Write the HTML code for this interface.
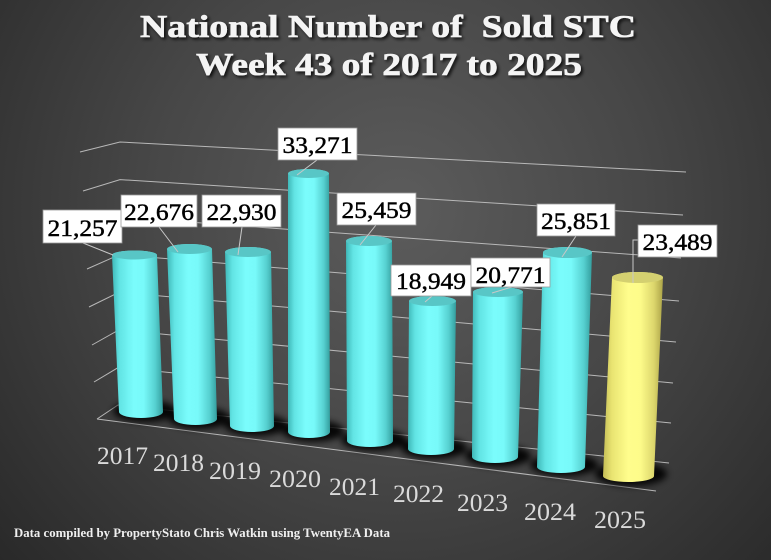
<!DOCTYPE html>
<html><head><meta charset="utf-8"><style>
html,body{margin:0;padding:0;background:#333;}
svg{display:block;}
</style></head><body>
<svg width="771" height="560" viewBox="0 0 771 560" xmlns="http://www.w3.org/2000/svg">
<defs>
<radialGradient id="bg" gradientUnits="userSpaceOnUse" cx="400" cy="210" r="560">
<stop offset="0" stop-color="#5c5c5c"/>
<stop offset="0.45" stop-color="#474747"/>
<stop offset="1" stop-color="#262626"/>
</radialGradient>
<linearGradient id="cy" x1="0" y1="0" x2="1" y2="0">
<stop offset="0" stop-color="#3fb8b8"/>
<stop offset="0.15" stop-color="#62e4e4"/>
<stop offset="0.42" stop-color="#7afcfc"/>
<stop offset="0.62" stop-color="#78fafa"/>
<stop offset="0.85" stop-color="#56d0d0"/>
<stop offset="1" stop-color="#349e9e"/>
</linearGradient>
<linearGradient id="yl" x1="0" y1="0" x2="1" y2="0">
<stop offset="0" stop-color="#c4bd55"/>
<stop offset="0.15" stop-color="#e9e472"/>
<stop offset="0.42" stop-color="#fffd8c"/>
<stop offset="0.62" stop-color="#fdfb8a"/>
<stop offset="0.85" stop-color="#dcd66c"/>
<stop offset="1" stop-color="#aca448"/>
</linearGradient>
<filter id="blur" x="-50%" y="-50%" width="200%" height="200%"><feGaussianBlur stdDeviation="3.5"/></filter>
<filter id="ts" x="-10%" y="-30%" width="120%" height="160%"><feGaussianBlur in="SourceAlpha" stdDeviation="1.5"/><feOffset dx="2" dy="2" result="o"/><feComponentTransfer><feFuncA type="linear" slope="0.8"/></feComponentTransfer><feMerge><feMergeNode/><feMergeNode in="SourceGraphic"/></feMerge></filter>
</defs>
<rect width="771" height="560" fill="url(#bg)"/>

<!-- gridlines -->
<g stroke="#b8b8b8" stroke-width="1" fill="none">
<polyline points="80,152 120,142 686,172"/>
<polyline points="83,191 120,179.6 683,215"/>
<polyline points="85,230 119.5,217 681,258"/>
<polyline points="87,269 119.3,254.7 679,301"/>
<polyline points="89,307 119,292.3 676,342"/>
<polyline points="92,345 118.7,330 673,383"/>
<polyline points="94,382 118.4,367.4 671,423"/>
<polyline points="97,419 118,405 669,463"/>
<line x1="97" y1="419" x2="656" y2="491"/>
</g>

<!-- shadows -->
<g fill="#000" opacity="0.9" filter="url(#blur)">
<ellipse cx="145" cy="411" rx="32" ry="11"/>
<ellipse cx="199" cy="418" rx="31" ry="11"/>
<ellipse cx="256" cy="425" rx="32" ry="11"/>
<ellipse cx="313" cy="431" rx="31" ry="11"/>
<ellipse cx="374" cy="440" rx="33" ry="11"/>
<ellipse cx="434" cy="448" rx="33" ry="11"/>
<ellipse cx="498" cy="456" rx="33" ry="11"/>
<ellipse cx="564" cy="465" rx="34" ry="11"/>
<ellipse cx="631" cy="474" rx="36" ry="12"/>
</g>

<!-- cylinders -->
<g>
<path d="M112,255 L119,412 A22,6 0 0 0 163,412 L157,255 A22.5,4.5 0 0 0 112,255 Z" fill="url(#cy)"/>
<ellipse cx="134.5" cy="255" rx="22.5" ry="4.5" fill="#58c6c6"/>

<path d="M167,249 L174,419 A21.5,6 0 0 0 217,419 L212,249 A22.5,5 0 0 0 167,249 Z" fill="url(#cy)"/>
<ellipse cx="189.5" cy="249" rx="22.5" ry="5" fill="#58c6c6"/>

<path d="M225,252 L230,426 A22,6 0 0 0 274,426 L271,252 A23,5 0 0 0 225,252 Z" fill="url(#cy)"/>
<ellipse cx="248" cy="252" rx="23" ry="5" fill="#58c6c6"/>

<path d="M288,173.5 L288,432 A21,6 0 0 0 330,432 L329,173.5 A20.5,4.5 0 0 0 288,173.5 Z" fill="url(#cy)"/>
<ellipse cx="308.5" cy="173.5" rx="20.5" ry="4.5" fill="#58c6c6"/>

<path d="M346,241 L347,441 A23,6 0 0 0 393,441 L392,241 A23,5 0 0 0 346,241 Z" fill="url(#cy)"/>
<ellipse cx="369" cy="241" rx="23" ry="5" fill="#58c6c6"/>

<path d="M409,301 L408,449 A23,6 0 0 0 454,449 L456,301 A23.5,5 0 0 0 409,301 Z" fill="url(#cy)"/>
<ellipse cx="432.5" cy="301" rx="23.5" ry="5" fill="#58c6c6"/>

<path d="M473,292 L472,457 A23,6 0 0 0 518,457 L523,292 A25,5 0 0 0 473,292 Z" fill="url(#cy)"/>
<ellipse cx="498" cy="292" rx="25" ry="5" fill="#58c6c6"/>

<path d="M543,252.5 L537,467 A24,6 0 0 0 585,467 L592,252.5 A24.5,5.5 0 0 0 543,252.5 Z" fill="url(#cy)"/>
<ellipse cx="567.5" cy="252.5" rx="24.5" ry="5.5" fill="#58c6c6"/>

<path d="M612,277.5 L603,476 A25.5,6 0 0 0 654,476 L663,277.5 A25.5,5.5 0 0 0 612,277.5 Z" fill="url(#yl)"/>
<ellipse cx="637.5" cy="277.5" rx="25.5" ry="5.5" fill="#d4d070"/>
</g>

<!-- leader lines -->
<g stroke="#c8c8c8" stroke-width="1" fill="none">
<line x1="83" y1="243" x2="113" y2="255"/>
<line x1="159" y1="227" x2="178" y2="252"/>
<line x1="242" y1="227" x2="238" y2="255"/>
<line x1="317" y1="160" x2="297" y2="175"/>
<line x1="376" y1="225" x2="360" y2="245"/>
<line x1="432" y1="296" x2="425" y2="302"/>
<line x1="512" y1="287" x2="492" y2="293"/>
<line x1="576" y1="236" x2="562" y2="257"/>
<polyline points="638,240 633,240 633,283"/>
</g>

<!-- label boxes -->
<g fill="#fff" stroke="#9a9a9a" stroke-width="0.8">
<rect x="43" y="210" width="79" height="33"/>
<rect x="121" y="195" width="76" height="32"/>
<rect x="202" y="195" width="79" height="32"/>
<rect x="278" y="128" width="79" height="32"/>
<rect x="337" y="193" width="79" height="32"/>
<rect x="391" y="265" width="80" height="31"/>
<rect x="471" y="258" width="79" height="29"/>
<rect x="537" y="204" width="78" height="32"/>
<rect x="638" y="225" width="79" height="32"/>
</g>
<g font-family="'Liberation Serif', serif" font-size="23" fill="#000" stroke="#000" stroke-width="0.45" text-anchor="middle">
<text x="82.5" y="236" textLength="70" lengthAdjust="spacingAndGlyphs">21,257</text>
<text x="159" y="220" textLength="70" lengthAdjust="spacingAndGlyphs">22,676</text>
<text x="241.5" y="220" textLength="70" lengthAdjust="spacingAndGlyphs">22,930</text>
<text x="317.5" y="153" textLength="70" lengthAdjust="spacingAndGlyphs">33,271</text>
<text x="376.5" y="218" textLength="70" lengthAdjust="spacingAndGlyphs">25,459</text>
<text x="431" y="289" textLength="70" lengthAdjust="spacingAndGlyphs">18,949</text>
<text x="510.5" y="283" textLength="70" lengthAdjust="spacingAndGlyphs">20,771</text>
<text x="576" y="229" textLength="70" lengthAdjust="spacingAndGlyphs">25,851</text>
<text x="677.5" y="250" textLength="70" lengthAdjust="spacingAndGlyphs">23,489</text>
</g>

<!-- year labels -->
<g font-family="'Liberation Serif', serif" font-size="25" fill="#dadada">
<text x="97" y="464" textLength="51" lengthAdjust="spacingAndGlyphs">2017</text>
<text x="153" y="471" textLength="51" lengthAdjust="spacingAndGlyphs">2018</text>
<text x="209" y="479" textLength="52" lengthAdjust="spacingAndGlyphs">2019</text>
<text x="269" y="487" textLength="52" lengthAdjust="spacingAndGlyphs">2020</text>
<text x="329" y="495" textLength="51" lengthAdjust="spacingAndGlyphs">2021</text>
<text x="393" y="502" textLength="51" lengthAdjust="spacingAndGlyphs">2022</text>
<text x="457" y="511" textLength="51" lengthAdjust="spacingAndGlyphs">2023</text>
<text x="524" y="520" textLength="52" lengthAdjust="spacingAndGlyphs">2024</text>
<text x="594" y="528" textLength="52" lengthAdjust="spacingAndGlyphs">2025</text>
</g>

<!-- title -->
<g font-family="'Liberation Serif', serif" font-weight="bold" font-size="32" fill="#f4f4f4" stroke="#f4f4f4" stroke-width="0.6" filter="url(#ts)">
<text x="140" y="37" textLength="496" lengthAdjust="spacingAndGlyphs">National Number of&#160; Sold STC</text>
<text x="196" y="75" textLength="386" lengthAdjust="spacingAndGlyphs">Week 43 of 2017 to 2025</text>
</g>

<!-- footer -->
<text x="14" y="537" font-family="'Liberation Serif', serif" font-weight="bold" font-size="12.5" fill="#f0f0f0" textLength="376" lengthAdjust="spacingAndGlyphs">Data compiled by PropertyStato Chris Watkin using TwentyEA Data</text>
</svg>
</body></html>
